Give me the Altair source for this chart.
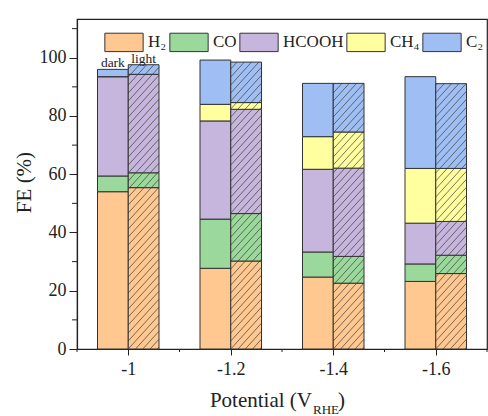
import altair as alt
import pandas as pd

# ---------------- data ----------------
potentials = [-1.0, -1.2, -1.4, -1.6]
products = ["H₂", "CO", "HCOOH", "CH₄", "C₂"]
conditions = ["dark", "light"]
colors = ["#FFC891", "#9AD89B", "#C6B5DC", "#FFFF9F", "#9FBFF4"]

h2_dark = [54.0, 27.7, 24.7, 23.2]
co_dark = [5.4, 16.9, 8.6, 6.0]
hcooh_dark = [34.1, 33.7, 28.4, 14.0]
ch4_dark = [0.0, 5.7, 11.2, 18.8]
c2_dark = [2.5, 15.2, 18.3, 31.5]

h2_light = [55.4, 30.2, 22.6, 25.9]
co_light = [5.1, 16.3, 9.2, 6.3]
hcooh_light = [33.8, 35.8, 30.3, 11.6]
ch4_light = [0.0, 2.3, 12.4, 18.2]
c2_light = [3.3, 13.9, 16.7, 29.1]

x_ticks = [-1.0, -1.2, -1.4, -1.6]
x_minor = [-0.9, -1.1, -1.3, -1.5, -1.7]
y_ticks = [0, 20, 40, 60, 80, 100]
y_minor = [10, 30, 50, 70, 90, 110]
title_parts = ["Potential (V", "RHE", ")"]

series = {
    "dark": [h2_dark, co_dark, hcooh_dark, ch4_dark, c2_dark],
    "light": [h2_light, co_light, hcooh_light, ch4_light, c2_light],
}
rows = []
for cond in conditions:
    for k, prod in enumerate(products):
        for i, p in enumerate(potentials):
            rows.append({"potential": p, "condition": cond, "product": prod,
                         "order": k, "value": series[cond][k][i]})
df = pd.DataFrame(rows)

# ---------------- geometry ----------------
W, H = 410, 330
X_DOMAIN = [-1.7, -0.9]
Y_MAX = 113.3
BAR = 0.06  # bar width in V
KX = W / (X_DOMAIN[1] - X_DOMAIN[0])
KY = H / Y_MAX
BWPX = BAR * KX
S = 8.0   # hatch spacing (px, vertical)
M = 1.1   # hatch slope
SERIF = "Liberation Serif"
INK = "#222222"

xscale = alt.Scale(domain=X_DOMAIN, reverse=True, nice=False, zero=False)
yscale = alt.Scale(domain=[0, Y_MAX], nice=False, zero=False)
x_axis = alt.Axis(values=x_ticks, labelExpr="'' + datum.value", tickSize=6,
                  labelPadding=5, grid=False, labelFont=SERIF, labelFontSize=18,
                  labelColor=INK)
y_axis = alt.Axis(values=y_ticks, format="d", tickSize=8, labelPadding=3,
                  grid=False, labelFont=SERIF, labelFontSize=18, labelColor=INK,
                  titleX=-47, titleY=H / 2 - 2,
                  titleBaseline="alphabetic", titleFont=SERIF,
                  titleFontSize=21, titleFontWeight="normal", titleColor=INK)


def X(field):
    return alt.X(field, scale=xscale, axis=x_axis, title=None)


def Y(field):
    return alt.Y(field, scale=yscale, axis=y_axis, title="FE (%)")


stacked = alt.Chart(df).transform_stack(
    stack="value", groupby=["potential", "condition"],
    as_=["y0", "y1"], sort=[alt.SortField("order")]
).transform_calculate(
    xa=f"datum.condition == 'dark' ? datum.potential + {BAR} : datum.potential"
).transform_calculate(
    xb=f"datum.condition == 'dark' ? datum.potential : datum.potential - {BAR}"
).transform_calculate(
    xc="(datum.xa + datum.xb) / 2"
)

bars = stacked.mark_rect(stroke="#333333", strokeWidth=1).encode(
    x=X("xa:Q"),
    x2="xb:Q",
    y=Y("y0:Q"),
    y2="y1:Q",
    color=alt.Color("product:N", title=None,
                    scale=alt.Scale(domain=products, range=colors),
                    sort=products,
                    legend=alt.Legend(orient="none", legendX=27, legendY=3,
                                      direction="horizontal", columns=5,
                                      symbolType="M-1,-0.48L1,-0.48L1,0.48L-1,0.48Z",
                                      symbolSize=1467, symbolStrokeColor="#333333",
                                      symbolStrokeWidth=1, symbolOpacity=1,
                                      labelFont=SERIF, labelFontSize=17,
                                      labelColor=INK, labelOffset=4,
                                      columnPadding=0, padding=0, offset=0)),
)

hatch = stacked.transform_filter(
    "datum.condition == 'light' && datum.value > 0"
).transform_calculate(
    Y0=f"datum.y0 * {KY}"
).transform_calculate(
    Y1=f"datum.y1 * {KY}"
).transform_calculate(
    ks=f"sequence(floor((datum.Y0 - {M} * {BWPX}) / {S}), ceil(datum.Y1 / {S}) + 1)"
).transform_flatten(["ks"], as_=["k"]).transform_calculate(
    c=f"datum.k * {S}"
).transform_calculate(
    xs=f"max(0, (datum.Y0 - datum.c) / {M})"
).transform_calculate(
    xe=f"min({BWPX}, (datum.Y1 - datum.c) / {M})"
).transform_filter("datum.xe - datum.xs > 0.2").transform_calculate(
    hx1=f"datum.potential - datum.xs / {KX}"
).transform_calculate(
    hy1=f"({M} * datum.xs + datum.c) / {KY}"
).transform_calculate(
    hx2=f"datum.potential - datum.xe / {KX}"
).transform_calculate(
    hy2=f"({M} * datum.xe + datum.c) / {KY}"
).mark_rule(color="#3a3530", strokeWidth=0.8, opacity=0.85).encode(
    x=X("hx1:Q"),
    x2="hx2:Q",
    y=Y("hy1:Q"),
    y2="hy2:Q",
)

labels = stacked.transform_filter(
    "datum.potential == -1 && datum.order == 4"
).mark_text(font=SERIF, fontSize=13.5, color=INK, baseline="alphabetic", dy=-2).encode(
    x=X("xc:Q"),
    y=Y("y1:Q"),
    text="condition:N",
)

xminor = alt.Chart(pd.DataFrame({"v": x_minor})).mark_rule(color=INK, strokeWidth=1).encode(
    x=X("v:Q"),
    y=alt.value(H), y2=alt.value(H + 3),
)
yminor = alt.Chart(pd.DataFrame({"v": y_minor})).mark_rule(color=INK, strokeWidth=1).encode(
    y=Y("v:Q"),
    x=alt.value(0), x2=alt.value(-5),
)

t1 = alt.Chart(pd.DataFrame({"t": [title_parts[0]]})).mark_text(
    font=SERIF, fontSize=21, color=INK, align="right", baseline="alphabetic"
).encode(text="t:N", x=alt.value(235), y=alt.value(388))
t2 = alt.Chart(pd.DataFrame({"t": [title_parts[1]]})).mark_text(
    font=SERIF, fontSize=13, color=INK, align="left", baseline="alphabetic"
).encode(text="t:N", x=alt.value(236), y=alt.value(395))
t3 = alt.Chart(pd.DataFrame({"t": [title_parts[2]]})).mark_text(
    font=SERIF, fontSize=21, color=INK, align="left", baseline="alphabetic"
).encode(text="t:N", x=alt.value(261), y=alt.value(388))

chart = alt.layer(bars, hatch, labels, xminor, yminor, t1, t2, t3).properties(
    width=W, height=H,
    autosize=alt.AutoSizeParams(type="none"),
    padding={"left": 77, "top": 19, "right": 1, "bottom": 67},
    background="white",
).configure_view(
    stroke=INK, strokeWidth=1.2
).configure_axis(
    labelFont=SERIF, labelFontSize=18, labelColor=INK,
    titleFont=SERIF, titleFontWeight="normal",
    domainColor=INK, tickColor=INK, domainWidth=1.2, tickWidth=1,
)

chart.save("out.html", embed_options={"renderer": "svg", "actions": False})
